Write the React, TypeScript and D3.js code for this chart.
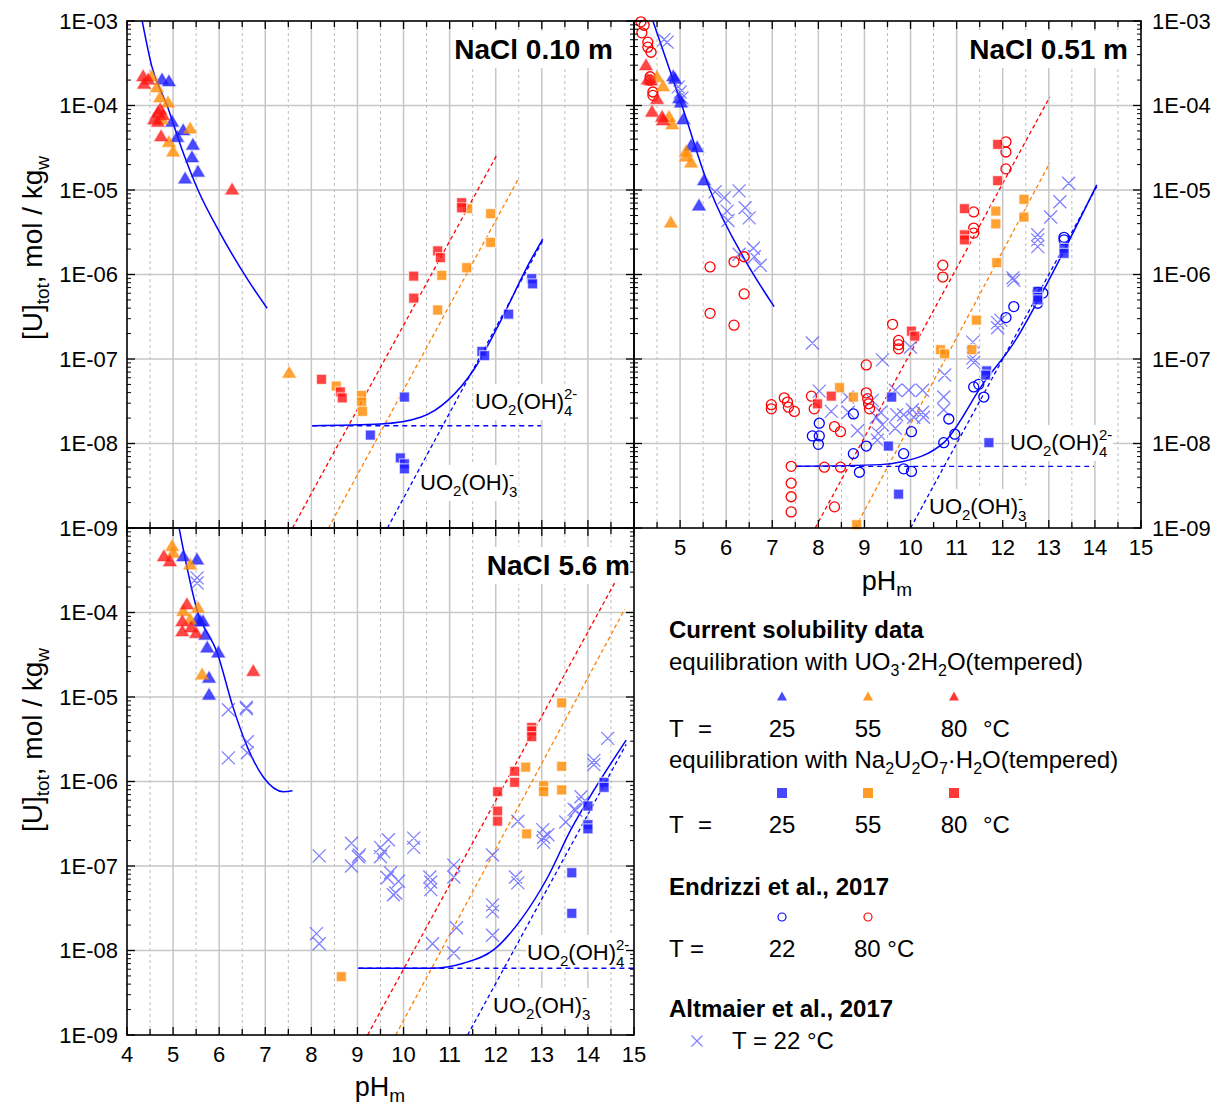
import React, { useLayoutEffect, useRef, useState } from 'react';
import * as d3 from 'd3';

type P = [number, number]; // [pH_m, log10 [U]tot]

// ---------------- Panel A: NaCl 0.10 m ----------------
const A_TRI_25: P[] = [[4.76,-3.70],[4.91,-3.72],[4.98,-4.20],[5.09,-4.38],[5.22,-4.30],[5.43,-4.47],[5.41,-4.62],[5.54,-4.79],[5.26,-4.87]];
const A_TRI_55: P[] = [[4.54,-3.66],[4.65,-3.79],[4.72,-3.91],[4.89,-3.97],[4.76,-4.17],[4.91,-4.44],[5.00,-4.55],[5.37,-4.28],[7.52,-7.17]];
const A_TRI_80: P[] = [[4.35,-3.66],[4.37,-3.75],[4.46,-3.70],[4.67,-4.09],[4.78,-4.12],[4.59,-4.17],[4.67,-4.20],[4.72,-4.05],[4.74,-4.37],[6.28,-5.00]];
const A_SQ_25: P[] = [[12.78,-6.05],[12.80,-6.11],[12.28,-6.47],[11.70,-6.91],[11.76,-6.96],[10.02,-7.45],[9.28,-7.90],[9.93,-8.17],[10.02,-8.24],[10.02,-8.30]];
const A_SQ_55: P[] = [[11.39,-5.22],[11.89,-5.28],[11.89,-5.62],[11.37,-5.92],[10.83,-6.01],[10.74,-6.42],[8.54,-7.32],[9.09,-7.43],[9.09,-7.51],[9.11,-7.62]];
const A_SQ_80: P[] = [[11.26,-5.15],[11.26,-5.21],[10.74,-5.72],[10.80,-5.80],[10.22,-6.02],[10.22,-6.28],[8.22,-7.24],[8.63,-7.39],[8.67,-7.46]];
const A_FIT_ACID: P[] = [[4.33,-3.0],[4.54,-3.54],[4.87,-4.0],[5.2,-4.53],[5.54,-5.0],[6.02,-5.51],[6.63,-6.07],[7.04,-6.40]];
const A_FIT_ALK: P[] = [[8.02,-7.79],[9.5,-7.77],[10.37,-7.69],[10.96,-7.49],[11.52,-7.13],[12.04,-6.62],[12.76,-5.83],[13.02,-5.58]];
const A_FLAT: P[] = [[8.02,-7.79],[12.98,-7.79]];
const A_SLOPE_25: P[] = [[9.65,-9.0],[13.02,-5.60]];
const A_SLOPE_55: P[] = [[8.37,-9.0],[12.5,-4.86]];
const A_SLOPE_80: P[] = [[7.59,-9.0],[12.02,-4.59]];

// ---------------- Panel B: NaCl 0.51 m ----------------
const B_TRI_25: P[] = [[4.85,-3.66],[4.89,-3.69],[4.98,-3.92],[5.02,-3.97],[5.07,-4.17],[5.24,-4.48],[5.37,-4.50],[5.52,-4.89],[5.41,-5.19]];
const B_TRI_55: P[] = [[4.50,-3.67],[4.63,-3.78],[4.76,-4.14],[4.83,-4.23],[5.13,-4.55],[5.13,-4.61],[5.24,-4.68],[4.80,-5.39]];
const B_TRI_80: P[] = [[4.26,-3.53],[4.30,-3.70],[4.37,-3.71],[4.50,-3.93],[4.39,-4.08],[4.61,-4.14],[4.63,-4.18]];
const B_SQ_25: P[] = [[9.59,-7.45],[9.52,-8.03],[9.74,-8.60],[11.65,-7.14],[11.63,-7.19],[11.70,-7.99],[12.76,-6.20],[12.76,-6.27],[12.76,-6.30],[13.33,-5.69],[13.33,-5.75]];
const B_SQ_55: P[] = [[8.46,-7.34],[8.76,-7.45],[8.83,-8.96],[10.65,-6.89],[10.74,-6.94],[11.33,-6.89],[11.43,-6.54],[11.87,-5.86],[11.85,-5.25],[11.85,-5.40],[12.46,-5.11],[12.46,-5.32]];
const B_SQ_80: P[] = [[7.98,-7.53],[8.28,-7.44],[10.02,-6.67],[10.09,-6.73],[11.17,-5.22],[11.17,-5.53],[11.17,-5.59],[11.89,-4.46],[11.89,-4.89]];
const B_CIRC_22: P[] = [[8.02,-7.76],[7.87,-7.91],[8.02,-7.91],[8.00,-8.01],[8.76,-7.65],[9.04,-8.03],[8.76,-8.12],[8.89,-8.34],[9.85,-8.12],[9.85,-8.30],[10.02,-8.33],[10.02,-7.86],[10.83,-7.71],[10.72,-7.99],[10.96,-7.89],[11.37,-7.33],[11.48,-7.30],[11.59,-7.45],[12.07,-6.51],[12.24,-6.38],[12.76,-6.34],[12.76,-6.21],[12.87,-6.22],[13.33,-5.56],[13.33,-5.59]];
const B_CIRC_80: P[] = [[4.15,-3.01],[4.22,-3.05],[4.17,-3.14],[4.30,-3.25],[4.30,-3.31],[4.37,-3.37],[4.35,-3.66],[4.35,-3.70],[4.41,-3.84],[4.41,-3.88],[5.65,-5.91],[6.17,-5.85],[6.39,-5.79],[6.39,-6.23],[5.65,-6.46],[6.17,-6.60],[6.98,-7.54],[6.98,-7.59],[7.26,-7.46],[7.33,-7.51],[7.35,-7.57],[7.48,-7.62],[7.85,-7.44],[7.91,-7.59],[8.35,-7.80],[8.48,-7.86],[7.41,-8.27],[7.41,-8.47],[7.41,-8.63],[7.41,-8.81],[8.13,-8.28],[8.48,-8.28],[8.35,-8.75],[9.04,-7.07],[9.04,-7.40],[9.07,-7.47],[9.09,-7.53],[9.11,-7.59],[9.61,-6.59],[9.74,-6.78],[9.74,-6.83],[9.74,-6.88],[10.70,-5.89],[10.70,-6.03],[11.37,-5.26],[11.37,-5.45],[11.37,-5.51],[12.07,-4.43],[12.07,-4.55],[12.07,-4.75]];
const B_CROSS: P[] = [[4.65,-3.22],[4.72,-3.25],[4.96,-3.78],[5.00,-3.84],[5.04,-3.91],[5.76,-5.02],[5.96,-5.09],[6.28,-5.01],[6.02,-5.25],[6.04,-5.36],[6.41,-5.21],[6.50,-5.33],[6.28,-5.76],[6.59,-5.69],[6.61,-5.79],[6.74,-5.89],[7.87,-6.81],[8.02,-7.38],[8.28,-7.62],[8.63,-7.45],[8.65,-7.63],[8.85,-7.85],[9.17,-7.49],[9.26,-7.69],[9.35,-7.63],[9.39,-7.78],[9.30,-7.88],[9.28,-7.96],[9.39,-7.01],[9.67,-7.37],[9.70,-7.66],[9.67,-7.82],[9.85,-7.66],[9.96,-7.37],[10.00,-6.86],[10.26,-7.37],[10.26,-7.63],[10.28,-7.69],[10.04,-7.60],[10.07,-7.69],[10.72,-7.45],[10.72,-7.60],[10.74,-7.19],[11.35,-6.80],[11.35,-6.99],[11.37,-7.04],[11.89,-6.57],[11.89,-6.63],[11.96,-6.54],[12.22,-6.04],[12.24,-6.07],[12.76,-5.53],[12.76,-5.59],[12.76,-5.67],[13.04,-5.32],[13.24,-5.14],[13.43,-4.92]];
const B_FIT_ACID: P[] = [[4.41,-3.0],[5.04,-4.0],[5.65,-5.0],[6.41,-5.83],[7.04,-6.38]];
const B_FIT_ALK: P[] = [[7.52,-8.27],[9.35,-8.25],[9.78,-8.22],[10.72,-7.99],[11.59,-7.28],[12.24,-6.81],[12.89,-6.18],[14.04,-4.94]];
const B_FLAT: P[] = [[7.52,-8.27],[13.98,-8.27]];
const B_SLOPE_25: P[] = [[10.0,-9.0],[14.04,-4.96]];
const B_SLOPE_55: P[] = [[8.8,-9.0],[13.02,-4.68]];
const B_SLOPE_80: P[] = [[7.93,-9.0],[13.02,-3.90]];

// ---------------- Panel C: NaCl 5.6 m ----------------
const C_TRI_25: P[] = [[5.22,-3.34],[5.52,-3.38],[5.52,-4.09],[5.59,-4.11],[5.65,-4.11],[5.70,-4.27],[5.74,-4.42],[5.98,-4.48],[5.78,-4.78],[5.78,-4.98]];
const C_TRI_55: P[] = [[4.98,-3.22],[5.00,-3.30],[5.37,-3.44],[5.22,-3.99],[5.37,-4.09],[5.54,-3.95],[5.63,-4.74]];
const C_TRI_80: P[] = [[4.80,-3.34],[4.93,-3.40],[5.30,-3.91],[5.20,-4.11],[5.20,-4.23],[5.39,-4.18],[5.50,-4.25],[6.74,-4.70]];
const C_SQ_25: P[] = [[14.35,-6.01],[14.35,-6.07],[14.00,-6.29],[14.00,-6.51],[14.00,-6.56],[13.65,-7.08],[13.65,-7.56]];
const C_SQ_55: P[] = [[13.43,-5.07],[12.65,-5.83],[13.43,-5.82],[13.04,-6.05],[13.04,-6.12],[13.43,-6.10],[12.67,-6.62],[8.65,-8.31]];
const C_SQ_80: P[] = [[12.78,-5.36],[12.78,-5.40],[12.78,-5.47],[12.41,-5.88],[12.41,-6.01],[12.04,-6.12],[12.04,-6.35],[12.04,-6.47]];
const C_CROSS: P[] = [[5.52,-3.59],[5.52,-3.65],[6.20,-5.15],[6.59,-5.12],[6.59,-5.14],[6.61,-5.53],[6.61,-5.66],[6.20,-5.72],[8.17,-6.88],[8.11,-7.80],[8.17,-7.92],[8.87,-6.73],[8.87,-7.00],[9.04,-6.87],[9.02,-6.89],[9.50,-6.78],[9.50,-6.89],[9.67,-6.69],[9.57,-6.83],[9.72,-7.08],[9.65,-7.14],[9.89,-7.18],[9.83,-7.32],[9.78,-7.34],[10.22,-6.67],[10.22,-6.78],[10.57,-7.13],[10.59,-7.19],[10.59,-7.28],[10.63,-7.92],[11.09,-6.99],[11.09,-7.13],[11.15,-7.73],[11.09,-8.03],[11.93,-6.87],[11.93,-7.46],[11.93,-7.54],[11.93,-7.82],[12.48,-6.47],[12.43,-7.13],[12.48,-7.20],[13.02,-6.57],[13.04,-6.66],[13.04,-6.72],[13.13,-6.63],[13.52,-6.48],[13.70,-6.33],[13.85,-6.18],[13.89,-6.25],[14.43,-5.49],[14.13,-5.75],[14.13,-5.80],[13.74,-6.34]];
const C_FIT_ACID: P[] = [[5.13,-3.0],[5.52,-3.97],[5.96,-4.48],[6.3,-5.12],[6.61,-5.59],[6.96,-5.95],[7.39,-6.12],[7.59,-6.11]];
const C_FIT_ALK: P[] = [[9.02,-8.21],[10.59,-8.21],[11.3,-8.15],[11.96,-7.99],[12.54,-7.64],[13.13,-7.13],[13.63,-6.57],[14.0,-6.22],[14.83,-5.51]];
const C_FLAT: P[] = [[9.02,-8.21],[15.0,-8.21]];
const C_SLOPE_25: P[] = [[11.39,-9.0],[14.83,-5.56]];
const C_SLOPE_55: P[] = [[9.83,-9.0],[14.8,-3.96]];
const C_SLOPE_80: P[] = [[9.22,-9.0],[14.61,-3.62]];

// ---------------- axes / labels ----------------
const X_DOMAIN: [number, number] = [4, 15];
const Y_DOMAIN: [number, number] = [1e-9, 1e-3];
const X_TICK_LABELS_C = [4,5,6,7,8,9,10,11,12,13,14,15];
const X_TICK_LABELS_B = [5,6,7,8,9,10,11,12,13,14,15];
const Y_TICK_LABELS_ALL = [1e-3,1e-4,1e-5,1e-6,1e-7,1e-8,1e-9];
const Y_TICK_LABELS_C = [1e-4,1e-5,1e-6,1e-7,1e-8,1e-9];
const LEGEND_T_UO3 = ['25','55','80'];
const LEGEND_T_NA = ['25','55','80'];
const LEGEND_T_ENDRIZZI = ['22','80 °C'];

const FONT = "'Liberation Sans', Arial, Helvetica, sans-serif";
const BLUE = '#1a1aff', ORANGE = '#ff8a00', RED = '#ff1414';
const XBLUE = '#4a4aff';
const PW = 507, PH = 507;

const tri = (x: number, y: number, w = 13, h = 11) => `M${x},${y - h * 0.62}L${x + w / 2},${y + h * 0.38}L${x - w / 2},${y + h * 0.38}Z`;
const sqr = (x: number, y: number, s = 10) => `M${x - s / 2},${y - s / 2}h${s}v${s}h${-s}Z`;
const crs = (x: number, y: number, s = 6.5) => `M${x - s},${y - s}L${x + s},${y + s}M${x - s},${y + s}L${x + s},${y - s}`;

function BoxedText(props: any) {
  const { pad = 2, children, ...rest } = props;
  const ref = useRef<SVGTextElement>(null);
  const [bb, setBb] = useState<any>(null);
  useLayoutEffect(() => {
    if (ref.current) {
      const b = ref.current.getBBox();
      setBb({ x: b.x, y: b.y, width: b.width, height: b.height });
    }
  }, []);
  return (
    <g>
      {bb && <rect x={bb.x - pad} y={bb.y - pad} width={bb.width + 2 * pad} height={bb.height + 2 * pad} fill="#fff" />}
      <text ref={ref} {...rest}>{children}</text>
    </g>
  );
}

function Species4(props: { x: number; y: number }) {
  return (
    <BoxedText x={props.x} y={props.y} fontSize={22} fontFamily={FONT} fill="#000" pad={1}>
      UO<tspan dy={6} fontSize={15}>2</tspan><tspan dy={-6}>(OH)</tspan>
      <tspan dy={-10} fontSize={15}>2-</tspan><tspan dx={-13.3} dy={17} fontSize={15}>4</tspan>
    </BoxedText>
  );
}
function Species3(props: { x: number; y: number }) {
  return (
    <BoxedText x={props.x} y={props.y} fontSize={22} fontFamily={FONT} fill="#000" pad={1}>
      UO<tspan dy={6} fontSize={15}>2</tspan><tspan dy={-6}>(OH)</tspan>
      <tspan dy={-10} fontSize={15}>-</tspan><tspan dx={-5} dy={17} fontSize={15}>3</tspan>
    </BoxedText>
  );
}

interface PanelCfg {
  id: string; x0: number; y0: number; title: string; titleRight: number; titleBase: number;
  tri25: P[]; tri55: P[]; tri80: P[]; sq25: P[]; sq55: P[]; sq80: P[];
  circ22: P[]; circ80: P[]; cross: P[];
  fitAcid: P[]; fitAlk: P[]; flat: P[]; s25: P[]; s55: P[]; s80: P[];
  yLabels: number[]; ySide: 'left' | 'right'; xLabels: number[];
  sp4: [number, number]; sp3: [number, number];
}

const PANELS: PanelCfg[] = [
  { id: 'A', x0: 127, y0: 21, title: 'NaCl 0.10 m', titleRight: 613, titleBase: 59,
    tri25: A_TRI_25, tri55: A_TRI_55, tri80: A_TRI_80, sq25: A_SQ_25, sq55: A_SQ_55, sq80: A_SQ_80,
    circ22: [], circ80: [], cross: [],
    fitAcid: A_FIT_ACID, fitAlk: A_FIT_ALK, flat: A_FLAT, s25: A_SLOPE_25, s55: A_SLOPE_55, s80: A_SLOPE_80,
    yLabels: Y_TICK_LABELS_ALL, ySide: 'left', xLabels: [], sp4: [475, 409], sp3: [420, 490] },
  { id: 'B', x0: 634, y0: 21, title: 'NaCl 0.51 m', titleRight: 1128, titleBase: 59,
    tri25: B_TRI_25, tri55: B_TRI_55, tri80: B_TRI_80, sq25: B_SQ_25, sq55: B_SQ_55, sq80: B_SQ_80,
    circ22: B_CIRC_22, circ80: B_CIRC_80, cross: B_CROSS,
    fitAcid: B_FIT_ACID, fitAlk: B_FIT_ALK, flat: B_FLAT, s25: B_SLOPE_25, s55: B_SLOPE_55, s80: B_SLOPE_80,
    yLabels: Y_TICK_LABELS_ALL, ySide: 'right', xLabels: X_TICK_LABELS_B, sp4: [1010, 450], sp3: [929, 514] },
  { id: 'C', x0: 127, y0: 528, title: 'NaCl 5.6 m', titleRight: 630, titleBase: 575,
    tri25: C_TRI_25, tri55: C_TRI_55, tri80: C_TRI_80, sq25: C_SQ_25, sq55: C_SQ_55, sq80: C_SQ_80,
    circ22: [], circ80: [], cross: C_CROSS,
    fitAcid: C_FIT_ACID, fitAlk: C_FIT_ALK, flat: C_FLAT, s25: C_SLOPE_25, s55: C_SLOPE_55, s80: C_SLOPE_80,
    yLabels: Y_TICK_LABELS_C, ySide: 'left', xLabels: X_TICK_LABELS_C, sp4: [527, 960], sp3: [493, 1013] },
];

const fmtE = (v: number) => {
  const e = Math.round(Math.log10(v));
  const a = Math.abs(e);
  return `1E${e < 0 ? '-' : '+'}${a < 10 ? '0' + a : a}`;
};

function Panel({ p }: { p: PanelCfg }) {
  const x = d3.scaleLinear().domain(X_DOMAIN).range([p.x0, p.x0 + PW]);
  const y = d3.scaleLog().domain(Y_DOMAIN).range([p.y0 + PH, p.y0]);
  const Y = (v: number) => y(Math.pow(10, v));
  const straight = d3.line<P>().x(d => x(d[0])).y(d => Y(d[1]));
  const smooth = d3.line<P>().x(d => x(d[0])).y(d => Y(d[1])).curve(d3.curveMonotoneX);
  const xt = x.ticks(22);
  const majorX = xt.filter(v => Math.abs(v - Math.round(v)) < 1e-9);
  const minorX = xt.filter(v => Math.abs(v - Math.round(v)) > 1e-9);
  const yt = y.ticks();
  const isDecade = (v: number) => Math.abs(Math.log10(v) - Math.round(Math.log10(v))) < 1e-9;
  const majorY = yt.filter(isDecade);
  const minorY = yt.filter(v => !isDecade(v));
  const x1 = p.x0 + PW, y1 = p.y0 + PH;
  const clip = `clip-${p.id}`;
  const mk = (arr: P[], f: (a: number, b: number) => string) => arr.map(d => f(x(d[0]), Y(d[1]))).join('');
  return (
    <g>
      <defs>
        <clipPath id={clip}><rect x={p.x0} y={p.y0} width={PW} height={PH} /></clipPath>
      </defs>
      {/* grid */}
      {minorX.map(v => <line key={'gx' + v} x1={x(v)} x2={x(v)} y1={p.y0} y2={y1} stroke="#bdbdbd" strokeWidth={1} strokeDasharray="3,3" />)}
      {majorX.filter(v => v > 4 && v < 15).map(v => <line key={'GX' + v} x1={x(v)} x2={x(v)} y1={p.y0} y2={y1} stroke="#c6c6c6" strokeWidth={1.5} />)}
      {majorY.filter(v => v > 1e-9 * 1.01 && v < 1e-3 * 0.99).map(v => <line key={'GY' + v} x1={p.x0} x2={x1} y1={y(v)} y2={y(v)} stroke="#c6c6c6" strokeWidth={1.5} />)}
      {/* labels */}
      <BoxedText x={p.titleRight} y={p.titleBase} textAnchor="end" fontSize={28} fontWeight="bold" fontFamily={FONT} pad={3}>{p.title}</BoxedText>
      <Species4 x={p.sp4[0]} y={p.sp4[1]} />
      <Species3 x={p.sp3[0]} y={p.sp3[1]} />
      {/* model lines */}
      <g clipPath={`url(#${clip})`} fill="none">
        <path d={straight(p.s80) || ''} stroke="#ff0000" strokeWidth={1.3} strokeDasharray="4,3" />
        <path d={straight(p.s55) || ''} stroke="#ff8000" strokeWidth={1.3} strokeDasharray="4,3" />
        <path d={straight(p.s25) || ''} stroke="#0000ff" strokeWidth={1.3} strokeDasharray="4,3" />
        <path d={straight(p.flat) || ''} stroke="#0000ff" strokeWidth={1.3} strokeDasharray="5,4" />
        <path d={smooth(p.fitAcid) || ''} stroke="#0000ff" strokeWidth={1.5} />
        <path d={smooth(p.fitAlk) || ''} stroke="#0000ff" strokeWidth={1.5} />
      </g>
      {/* data */}
      <path d={mk(p.cross, (a, b) => crs(a, b))} stroke={XBLUE} strokeOpacity={0.7} strokeWidth={1.3} fill="none" />
      {p.circ80.map((d, i) => <circle key={'c80' + i} cx={x(d[0])} cy={Y(d[1])} r={5} fill="none" stroke="#ff0000" strokeWidth={1.3} />)}
      {p.circ22.map((d, i) => <circle key={'c22' + i} cx={x(d[0])} cy={Y(d[1])} r={5} fill="none" stroke="#0000ff" strokeWidth={1.3} />)}
      {[[p.tri25, BLUE], [p.tri55, ORANGE], [p.tri80, RED]].map(([arr, c]: any, i) =>
        (arr as P[]).map((d, j) => <path key={'t' + i + '-' + j} d={tri(x(d[0]), Y(d[1]))} fill={c} fillOpacity={0.78} stroke={c} strokeOpacity={0.3} strokeWidth={1.5} />))}
      {[[p.sq25, BLUE], [p.sq55, ORANGE], [p.sq80, RED]].map(([arr, c]: any, i) =>
        (arr as P[]).map((d, j) => <path key={'s' + i + '-' + j} d={sqr(x(d[0]), Y(d[1]))} fill={c} fillOpacity={0.8} stroke="#fff" strokeOpacity={0.6} strokeWidth={1.2} />))}
      {/* frame */}
      <rect x={p.x0} y={p.y0} width={PW} height={PH} fill="none" stroke="#000" strokeWidth={1.6} />
      {/* x ticks (top & bottom, inward) */}
      {xt.map(v => {
        const L = majorX.includes(v) ? 8 : 6;
        return <g key={'xt' + v}>
          <line x1={x(v)} x2={x(v)} y1={p.y0} y2={p.y0 + L} stroke="#000" strokeWidth={1.3} />
          <line x1={x(v)} x2={x(v)} y1={y1} y2={y1 - L} stroke="#000" strokeWidth={1.3} />
        </g>;
      })}
      {/* y ticks (left & right, inward) */}
      {majorY.map(v => <g key={'yt' + v}>
        <line x1={p.x0} x2={p.x0 + 8} y1={y(v)} y2={y(v)} stroke="#000" strokeWidth={1.3} />
        <line x1={x1} x2={x1 - 8} y1={y(v)} y2={y(v)} stroke="#000" strokeWidth={1.3} />
      </g>)}
      {minorY.map(v => <g key={'ym' + v}>
        <line x1={p.x0} x2={p.x0 + 4} y1={y(v)} y2={y(v)} stroke="#000" strokeWidth={1} />
        <line x1={x1} x2={x1 - 4} y1={y(v)} y2={y(v)} stroke="#000" strokeWidth={1} />
      </g>)}
      {/* tick labels */}
      {p.yLabels.map(v => (
        <text key={'yl' + v} x={p.ySide === 'left' ? p.x0 - 9 : x1 + 11} y={y(v)} dy="0.36em"
          textAnchor={p.ySide === 'left' ? 'end' : 'start'} fontSize={22} fontFamily={FONT}>{fmtE(v)}</text>
      ))}
      {p.xLabels.map(v => (
        <text key={'xl' + v} x={x(v)} y={y1 + 27} textAnchor="middle" fontSize={22} fontFamily={FONT}>{v}</text>
      ))}
    </g>
  );
}

function YTitle({ cx, cy }: { cx: number; cy: number }) {
  return (
    <text transform={`translate(${cx},${cy}) rotate(-90)`} textAnchor="middle" fontSize={28} fontFamily={FONT}>
      [U]<tspan dy={7} fontSize={19}>tot</tspan><tspan dy={-7}>, mol / kg</tspan><tspan dy={7} fontSize={19}>w</tspan>
    </text>
  );
}
function XTitle({ cx, y }: { cx: number; y: number }) {
  return (
    <text x={cx} y={y} textAnchor="middle" fontSize={27} fontFamily={FONT}>
      pH<tspan dy={6} fontSize={19}>m</tspan>
    </text>
  );
}

function Legend() {
  const lx = 669;
  const eqx = 698;
  const cols = [782, 868, 954];
  const fs = 24;
  return (
    <g fontFamily={FONT} fontSize={fs} fill="#000">
      <text x={lx} y={638} fontWeight="bold">Current solubility data</text>
      <text x={lx} y={670}>equilibration with UO<tspan dy={6} fontSize={16}>3</tspan><tspan dy={-6}>·2H</tspan><tspan dy={6} fontSize={16}>2</tspan><tspan dy={-6}>O(tempered)</tspan></text>
      <path d={tri(cols[0], 697, 10, 9)} fill={BLUE} fillOpacity={0.8} />
      <path d={tri(cols[1], 697, 10, 9)} fill={ORANGE} fillOpacity={0.85} />
      <path d={tri(cols[2], 697, 10, 9)} fill={RED} fillOpacity={0.85} />
      <text x={lx} y={737}>T</text>
      <text x={eqx} y={737}>=</text>
      {LEGEND_T_UO3.map((t, i) => <text key={'lu' + i} x={cols[i]} y={737} textAnchor="middle">{t}</text>)}
      <text x={983} y={737}>°C</text>
      <text x={lx} y={768}>equilibration with Na<tspan dy={6} fontSize={16}>2</tspan><tspan dy={-6}>U</tspan><tspan dy={6} fontSize={16}>2</tspan><tspan dy={-6}>O</tspan><tspan dy={6} fontSize={16}>7</tspan><tspan dy={-6}>·H</tspan><tspan dy={6} fontSize={16}>2</tspan><tspan dy={-6}>O(tempered)</tspan></text>
      <path d={sqr(cols[0], 793, 10)} fill={BLUE} fillOpacity={0.8} />
      <path d={sqr(cols[1], 793, 10)} fill={ORANGE} fillOpacity={0.85} />
      <path d={sqr(cols[2], 793, 10)} fill={RED} fillOpacity={0.85} />
      <text x={lx} y={833}>T</text>
      <text x={eqx} y={833}>=</text>
      {LEGEND_T_NA.map((t, i) => <text key={'ln' + i} x={cols[i]} y={833} textAnchor="middle">{t}</text>)}
      <text x={983} y={833}>°C</text>
      <text x={lx} y={895} fontWeight="bold">Endrizzi et al., 2017</text>
      <circle cx={cols[0]} cy={917} r={4} fill="none" stroke="#0000ff" strokeWidth={1.2} />
      <circle cx={cols[1]} cy={917} r={4} fill="none" stroke="#ff0000" strokeWidth={1.2} />
      <text x={lx} y={957}>T =</text>
      <text x={cols[0]} y={957} textAnchor="middle">{LEGEND_T_ENDRIZZI[0]}</text>
      <text x={854} y={957}>{LEGEND_T_ENDRIZZI[1]}</text>
      <text x={lx} y={1017} fontWeight="bold">Altmaier et al., 2017</text>
      <path d={crs(697, 1041, 5.5)} stroke={XBLUE} strokeOpacity={0.7} strokeWidth={1.2} fill="none" />
      <text x={732} y={1049}>T = 22 °C</text>
    </g>
  );
}

export default function App() {
  return (
    <svg width={1215} height={1109} viewBox="0 0 1215 1109" style={{ position: 'absolute', left: 0, top: 0, background: '#fff' }}>
      <rect width={1215} height={1109} fill="#fff" />
      {PANELS.map(p => <Panel key={p.id} p={p} />)}
      <YTitle cx={42} cy={248} />
      <YTitle cx={42} cy={740} />
      <XTitle cx={380} y={1096} />
      <XTitle cx={887} y={590} />
      <Legend />
    </svg>
  );
}
